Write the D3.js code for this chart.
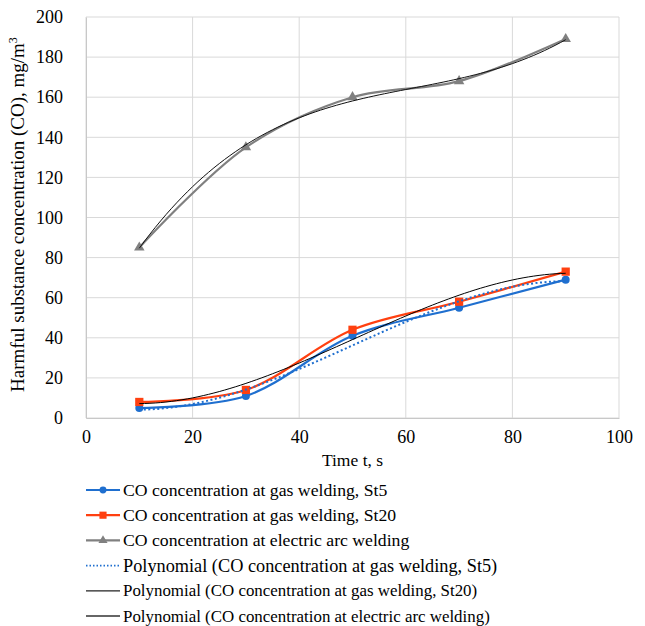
<!DOCTYPE html>
<html>
<head>
<meta charset="utf-8">
<script src="https://cdn.jsdelivr.net/npm/d3@7"></script>
<style>
  body { margin: 0; background: #fff; }
</style>
</head>
<body>
<div id="chart"></div>
<script>
// ************** data *****************
var timeValues = [10, 30, 50, 70, 90];
var st5Values = [5, 11, 41, 55, 69];
var st20Values = [8, 14, 44, 58, 73];
var arcValues = [85, 135, 160, 168, 189];

var xTicks = [0, 20, 40, 60, 80, 100];
var yTicks = [0, 20, 40, 60, 80, 100, 120, 140, 160, 180, 200];

var seriesNames = ["CO concentration at gas welding, St5",
                   "CO concentration at gas welding, St20",
                   "CO concentration at electric arc welding"];
var trendNames = ["Polynomial (CO concentration at gas welding, St5)",
                  "Polynomial (CO concentration at gas welding, St20)",
                  "Polynomial (CO concentration at electric arc welding)"];

// ************** svg *****************
var widthTotal = 645, heightTotal = 626;
var margin = {top: 17, right: 26, bottom: 208, left: 86},
    width = widthTotal - margin.left - margin.right,
    height = heightTotal - margin.top - margin.bottom;

var blue = "#1f6fcf", red = "#ff4010", gray = "#808080";
var serifFont = "'Liberation Serif'";

var svg = d3.select("#chart").append("svg")
  .attr("width", widthTotal)
  .attr("height", heightTotal);

var g = svg.append("g")
  .attr("transform", "translate(" + margin.left + "," + margin.top + ")");

var x = d3.scaleLinear().domain([0, 100]).range([0, width]);
var y = d3.scaleLinear().domain([0, 200]).range([height, 0]);

//grid
g.selectAll("line.hgrid").data(yTicks).enter().append("line")
  .attr("class", "hgrid")
  .attr("x1", 0).attr("x2", width)
  .attr("y1", function(d) { return y(d); }).attr("y2", function(d) { return y(d); })
  .attr("stroke", "#d9d9d9").attr("stroke-width", 1);

g.selectAll("line.vgrid").data(xTicks).enter().append("line")
  .attr("class", "vgrid")
  .attr("y1", 0).attr("y2", height)
  .attr("x1", function(d) { return x(d); }).attr("x2", function(d) { return x(d); })
  .attr("stroke", "#d9d9d9").attr("stroke-width", 1);

//axes (labels only, lines drawn by grid)
var xAxis = g.append("g")
  .attr("transform", "translate(0," + height + ")")
  .call(d3.axisBottom(x).tickValues(xTicks).tickSize(0).tickPadding(12));
var yAxis = g.append("g")
  .call(d3.axisLeft(y).tickValues(yTicks).tickSize(0).tickPadding(23));

[xAxis, yAxis].forEach(function(a) {
  a.select(".domain").attr("stroke", "#c8c8c8");
  a.selectAll("text")
    .style("font-family", serifFont)
    .style("font-size", "18px")
    .attr("fill", "#000");
});

//axis titles
svg.append("text")
  .attr("x", margin.left + width / 2)
  .attr("y", 466)
  .attr("text-anchor", "middle")
  .style("font-family", serifFont)
  .style("font-size", "17.5px")
  .text("Time t, s");

var yTitle = svg.append("text")
  .attr("transform", "translate(24," + (margin.top + height / 2 - 3) + ") rotate(-90)")
  .attr("text-anchor", "middle")
  .style("font-family", serifFont)
  .style("font-size", "19px");
yTitle.append("tspan").text("Harmful substance concentration (CO), mg/m");
yTitle.append("tspan").attr("dy", "-7").style("font-size", "12px").text("3");

// ************** polynomial trendlines (least squares, order 3) *****************
function polyFit(xs, ys, order) {
  var n = order + 1, A = [], b = [];
  for (var i = 0; i < n; i++) {
    A.push([]);
    for (var j = 0; j < n; j++) A[i].push(d3.sum(xs, function(v) { return Math.pow(v, i + j); }));
    b.push(d3.sum(xs, function(v, k) { return Math.pow(v, i) * ys[k]; }));
  }
  // gaussian elimination
  for (var c = 0; c < n; c++) {
    for (var r = c + 1; r < n; r++) {
      var f = A[r][c] / A[c][c];
      for (var k = c; k < n; k++) A[r][k] -= f * A[c][k];
      b[r] -= f * b[c];
    }
  }
  var coef = new Array(n);
  for (var r2 = n - 1; r2 >= 0; r2--) {
    var s = b[r2];
    for (var k2 = r2 + 1; k2 < n; k2++) s -= A[r2][k2] * coef[k2];
    coef[r2] = s / A[r2][r2];
  }
  return function(t) { return d3.sum(coef, function(cf, p) { return cf * Math.pow(t, p); }); };
}

var trendX = d3.range(timeValues[0], timeValues[timeValues.length - 1] + 0.5, 1);

function trendPoints(vals) {
  var f = polyFit(timeValues, vals, 3);
  return trendX.map(function(t) { return [t, f(t)]; });
}

var trendLine = d3.line()
  .x(function(d) { return x(d[0]); })
  .y(function(d) { return y(d[1]); });

var dataLine = d3.line()
  .curve(d3.curveCatmullRom.alpha(0.5))
  .x(function(d) { return x(d[0]); })
  .y(function(d) { return y(d[1]); });

function pairs(vals) { return timeValues.map(function(t, i) { return [t, vals[i]]; }); }

//data series
var series = [
  {vals: st5Values, color: blue, marker: d3.symbolCircle, size: 50},
  {vals: st20Values, color: red, marker: d3.symbolSquare, size: 68},
  {vals: arcValues, color: gray, marker: d3.symbolTriangle, size: 48}
];

var trends = [
  {vals: st5Values, color: blue, width: 2, dash: "2,2.5"},
  {vals: st20Values, color: "#000", width: 1, dash: null},
  {vals: arcValues, color: "#111", width: 1, dash: null}
];

series.forEach(function(s) {
  g.append("path")
    .attr("d", dataLine(pairs(s.vals)))
    .attr("fill", "none")
    .attr("stroke", s.color)
    .attr("stroke-width", 2.2);
  g.selectAll(null).data(pairs(s.vals)).enter().append("path")
    .attr("d", d3.symbol().type(s.marker).size(s.size))
    .attr("transform", function(d) { return "translate(" + x(d[0]) + "," + y(d[1]) + ")"; })
    .attr("fill", s.color);
});

trends.forEach(function(t) {
  g.append("path")
    .attr("d", trendLine(trendPoints(t.vals)))
    .attr("fill", "none")
    .attr("stroke", t.color)
    .attr("stroke-width", t.width)
    .attr("stroke-dasharray", t.dash);
});

// ************** legend *****************
var legendTop = 490, legendStep = 25.2;
var legendFontSizes = [17.7, 17.7, 17.7, 18.3, 16.9, 16.9];
var legend = svg.append("g").attr("transform", "translate(86," + legendTop + ")");

series.forEach(function(s, i) {
  var row = legend.append("g").attr("transform", "translate(0," + (i * legendStep) + ")");
  row.append("line").attr("x1", 0).attr("x2", 34).attr("y1", 0).attr("y2", 0)
    .attr("stroke", s.color).attr("stroke-width", 2.2);
  row.append("path")
    .attr("d", d3.symbol().type(s.marker).size(s.size * 0.75))
    .attr("transform", "translate(17,0)")
    .attr("fill", s.color);
  row.append("text").attr("x", 37).attr("y", 0).attr("dy", "0.33em")
    .style("font-family", serifFont)
    .style("font-size", legendFontSizes[i] + "px").text(seriesNames[i]);
});

var legendTrendStyle = [
  {color: blue, width: 1.6, dash: "1.5,2"},
  {color: "#222", width: 1.3, dash: null},
  {color: "#666", width: 2, dash: null}
];

trends.forEach(function(t, i) {
  var st = legendTrendStyle[i];
  var row = legend.append("g").attr("transform", "translate(0," + ((i + 3) * legendStep) + ")");
  row.append("line").attr("x1", 0).attr("x2", 34).attr("y1", 0).attr("y2", 0)
    .attr("stroke", st.color).attr("stroke-width", st.width)
    .attr("stroke-dasharray", st.dash);
  row.append("text").attr("x", 37).attr("y", 0).attr("dy", "0.33em")
    .style("font-family", serifFont)
    .style("font-size", legendFontSizes[i + 3] + "px").text(trendNames[i]);
});
</script>
</body>
</html>
